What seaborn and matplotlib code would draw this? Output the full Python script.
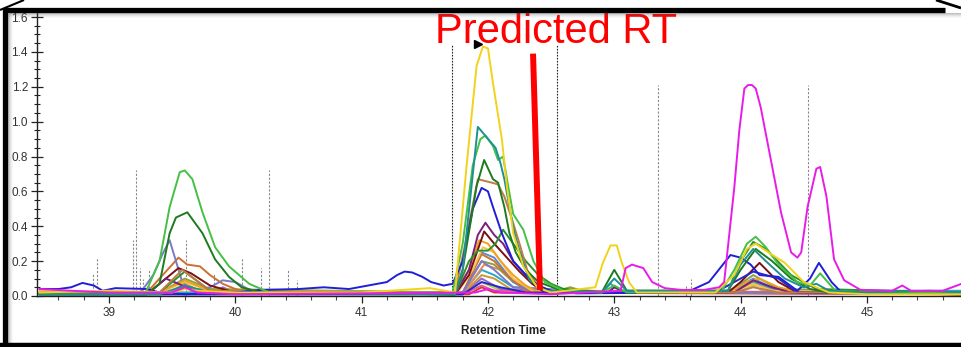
import numpy as np
import pandas as pd
import matplotlib
matplotlib.use("Agg")
import matplotlib.pyplot as plt
from matplotlib.lines import Line2D
from matplotlib.ticker import MultipleLocator
import seaborn as sns

# ---------------- data ----------------
yellow_t = [38.45, 39.0, 39.5, 39.6, 39.7, 40.0, 41.0, 41.54, 41.74, 41.83, 41.91, 41.96, 42.0, 42.04, 42.11, 42.15, 42.2, 42.28, 42.39, 42.5, 42.85, 42.91, 42.97, 43.02, 43.06, 43.12, 43.18, 43.8, 43.95, 44.05, 44.12, 44.2, 44.35, 44.5, 44.7, 45.0, 45.75]
yellow_y = [0.02, 0.03, 0.02, 0.04, 0.03, 0.02, 0.02, 0.045, 0.02, 0.74, 1.32, 1.43, 1.42, 1.22, 0.90, 0.63, 0.36, 0.17, 0.05, 0.02, 0.05, 0.19, 0.29, 0.29, 0.19, 0.075, 0.02, 0.02, 0.12, 0.27, 0.30, 0.26, 0.19, 0.08, 0.02, 0.01, 0.01]

teal_t = [38.45, 39.4, 39.6, 39.8, 41.74, 41.8, 41.87, 41.92, 41.99, 42.06, 42.1, 42.13, 42.17, 42.21, 42.27, 42.33, 42.45, 42.9, 43.0, 43.1, 43.9, 44.0, 44.1, 44.2, 44.35, 44.5, 44.6, 44.7, 45.0, 45.5, 45.75]
teal_y = [0.01, 0.01, 0.06, 0.02, 0.01, 0.15, 0.63, 0.97, 0.91, 0.85, 0.76, 0.67, 0.51, 0.36, 0.21, 0.09, 0.03, 0.02, 0.10, 0.03, 0.03, 0.18, 0.27, 0.20, 0.10, 0.05, 0.07, 0.03, 0.02, 0.03, 0.02]

lgreen_t = [38.45, 39.1, 39.29, 39.40, 39.48, 39.56, 39.6, 39.66, 39.74, 39.84, 39.95, 40.11, 40.27, 41.72, 41.8, 41.88, 41.94, 41.98, 42.04, 42.08, 42.12, 42.16, 42.2, 42.28, 42.36, 42.45, 42.6, 42.9, 43.0, 43.1, 43.85, 43.95, 44.05, 44.12, 44.2, 44.3, 44.45, 44.55, 44.63, 44.75, 45.0, 45.75]
lgreen_y = [0.01, 0.01, 0.02, 0.20, 0.51, 0.71, 0.72, 0.67, 0.48, 0.28, 0.17, 0.07, 0.02, 0.02, 0.30, 0.75, 0.90, 0.92, 0.86, 0.78, 0.80, 0.63, 0.47, 0.38, 0.20, 0.08, 0.03, 0.02, 0.06, 0.02, 0.03, 0.15, 0.30, 0.34, 0.28, 0.18, 0.08, 0.06, 0.13, 0.03, 0.02, 0.02]

dgreen_t = [38.45, 39.3, 39.40, 39.48, 39.53, 39.62, 39.74, 39.84, 39.95, 40.05, 40.2, 41.74, 41.8, 41.91, 41.97, 42.04, 42.08, 42.13, 42.17, 42.22, 42.3, 42.4, 42.55, 42.9, 43.0, 43.1, 43.9, 44.0, 44.12, 44.25, 44.4, 44.55, 44.7, 45.75]
dgreen_y = [0.01, 0.01, 0.07, 0.36, 0.45, 0.48, 0.36, 0.21, 0.11, 0.05, 0.02, 0.01, 0.15, 0.63, 0.78, 0.67, 0.65, 0.51, 0.36, 0.25, 0.15, 0.08, 0.04, 0.02, 0.15, 0.03, 0.03, 0.15, 0.27, 0.20, 0.10, 0.04, 0.02, 0.01]

green2_t = [38.45, 39.4, 39.6, 39.8, 41.74, 41.85, 41.92, 42.0, 42.06, 42.12, 42.2, 42.3, 42.4, 42.5, 42.6, 43.0, 43.9, 44.0, 44.1, 44.2, 44.4, 44.6, 45.75]
green2_y = [0.01, 0.02, 0.14, 0.03, 0.01, 0.20, 0.26, 0.26, 0.30, 0.38, 0.30, 0.20, 0.12, 0.07, 0.04, 0.02, 0.03, 0.20, 0.31, 0.27, 0.12, 0.04, 0.02]

brown_t = [38.45, 39.4, 39.58, 39.8, 41.74, 41.82, 41.92, 42.03, 42.08, 42.13, 42.19, 42.25, 42.31, 42.4, 42.5, 43.0, 43.95, 44.1, 44.3, 45.75]
brown_y = [0.02, 0.02, 0.15, 0.03, 0.02, 0.30, 0.67, 0.65, 0.64, 0.57, 0.44, 0.30, 0.15, 0.05, 0.02, 0.02, 0.02, 0.05, 0.02, 0.02]

blue_t = [38.45, 38.6, 38.7, 38.79, 38.88, 38.95, 39.05, 39.3, 39.4, 39.6, 40.0, 40.2, 40.5, 40.7, 40.9, 41.05, 41.2, 41.28, 41.34, 41.4, 41.48, 41.55, 41.65, 41.72, 41.8, 41.88, 41.95, 42.0, 42.04, 42.11, 42.2, 42.3, 42.4, 42.5, 42.7, 43.5, 43.6, 43.75, 43.92, 44.0, 44.08, 44.15, 44.3, 44.45, 44.55, 44.62, 44.72, 44.8, 45.75]
blue_y = [0.04, 0.04, 0.05, 0.075, 0.06, 0.03, 0.045, 0.04, 0.02, 0.01, 0.02, 0.035, 0.04, 0.05, 0.04, 0.06, 0.08, 0.12, 0.14, 0.135, 0.11, 0.08, 0.06, 0.07, 0.20, 0.50, 0.62, 0.60, 0.51, 0.36, 0.20, 0.12, 0.06, 0.03, 0.015, 0.02, 0.03, 0.08, 0.235, 0.22, 0.18, 0.12, 0.11, 0.03, 0.10, 0.19, 0.08, 0.02, 0.02]

blue2_t = [38.45, 41.8, 41.95, 42.1, 42.3, 43.8, 44.0, 44.1, 44.3, 44.45, 45.75]
blue2_y = [0.01, 0.01, 0.08, 0.05, 0.02, 0.02, 0.10, 0.14, 0.10, 0.02, 0.01]

magenta_t = [38.45, 38.7, 39.0, 39.5, 39.6, 39.7, 40.0, 41.9, 42.0, 42.1, 42.5, 43.05, 43.09, 43.14, 43.23, 43.3, 43.4, 43.53, 43.71, 43.83, 43.87, 43.91, 43.95, 43.99, 44.03, 44.06, 44.09, 44.12, 44.16, 44.24, 44.32, 44.4, 44.45, 44.48, 44.53, 44.6, 44.63, 44.68, 44.74, 44.82, 44.95, 45.2, 45.28, 45.35, 45.6, 45.75]
magenta_y = [0.04, 0.03, 0.02, 0.02, 0.05, 0.02, 0.01, 0.02, 0.04, 0.02, 0.01, 0.03, 0.16, 0.18, 0.16, 0.08, 0.045, 0.035, 0.035, 0.05, 0.08, 0.35, 0.62, 0.95, 1.19, 1.21, 1.21, 1.19, 1.08, 0.78, 0.48, 0.25, 0.22, 0.25, 0.51, 0.73, 0.74, 0.57, 0.21, 0.09, 0.035, 0.03, 0.06, 0.03, 0.03, 0.07]

purple_t = [38.45, 39.3, 39.45, 39.55, 39.7, 41.74, 41.85, 41.92, 41.98, 42.05, 42.12, 42.2, 42.3, 42.4, 42.5, 42.95, 43.0, 43.1, 43.95, 44.1, 44.25, 44.4, 45.75]
purple_y = [0.01, 0.01, 0.10, 0.07, 0.02, 0.01, 0.15, 0.35, 0.42, 0.35, 0.30, 0.20, 0.12, 0.05, 0.02, 0.02, 0.05, 0.02, 0.02, 0.09, 0.05, 0.02, 0.01]

maroon_t = [38.45, 39.3, 39.45, 39.55, 39.65, 39.8, 40.0, 41.74, 41.85, 41.97, 42.05, 42.15, 42.25, 42.35, 42.45, 43.9, 44.0, 44.15, 44.3, 44.45, 45.75]
maroon_y = [0.01, 0.01, 0.10, 0.16, 0.13, 0.06, 0.02, 0.01, 0.12, 0.37, 0.30, 0.22, 0.14, 0.07, 0.02, 0.02, 0.08, 0.19, 0.08, 0.02, 0.01]

orange_t = [38.45, 39.4, 39.6, 39.8, 41.74, 41.85, 41.93, 42.0, 42.1, 42.2, 42.3, 42.4, 43.9, 44.05, 44.15, 44.3, 44.5, 45.75]
orange_y = [0.02, 0.02, 0.09, 0.03, 0.02, 0.15, 0.32, 0.30, 0.20, 0.12, 0.06, 0.02, 0.02, 0.08, 0.10, 0.05, 0.02, 0.02]

lorange_t = [38.45, 39.4, 39.6, 39.8, 41.76, 41.88, 41.96, 42.05, 42.2, 42.35, 44.0, 44.1, 44.25, 45.75]
lorange_y = [0.03, 0.02, 0.08, 0.03, 0.02, 0.15, 0.28, 0.25, 0.10, 0.03, 0.03, 0.07, 0.03, 0.02]

slate_t = [38.45, 39.25, 39.35, 39.43, 39.48, 39.53, 39.58, 39.65, 39.8, 39.9, 40.0, 40.1, 40.2, 41.8, 41.95, 42.05, 42.2, 43.0, 45.75]
slate_y = [0.01, 0.02, 0.12, 0.25, 0.32, 0.20, 0.08, 0.03, 0.05, 0.09, 0.08, 0.04, 0.02, 0.02, 0.20, 0.15, 0.05, 0.02, 0.02]

orbrown_t = [38.45, 39.3, 39.45, 39.55, 39.62, 39.72, 39.8, 39.9, 40.0, 40.1, 41.8, 41.95, 42.05, 42.15, 42.3, 45.75]
orbrown_y = [0.01, 0.02, 0.14, 0.22, 0.18, 0.17, 0.12, 0.07, 0.04, 0.02, 0.02, 0.24, 0.20, 0.12, 0.03, 0.01]

cornflower_t = [38.45, 41.8, 41.95, 42.05, 42.2, 42.35, 43.9, 44.1, 44.3, 45.75]
cornflower_y = [0.01, 0.01, 0.25, 0.22, 0.08, 0.02, 0.02, 0.10, 0.03, 0.01]

pink_t = [38.45, 39.5, 39.6, 39.7, 41.8, 41.95, 42.05, 45.75]
pink_y = [0.02, 0.02, 0.06, 0.02, 0.01, 0.06, 0.03, 0.02]

olive_t = [38.45, 39.4, 39.6, 39.8, 41.8, 41.95, 42.05, 42.2, 42.4, 42.55, 42.65, 42.8, 43.9, 44.1, 44.3, 45.75]
olive_y = [0.015, 0.02, 0.10, 0.04, 0.02, 0.20, 0.18, 0.08, 0.03, 0.03, 0.05, 0.02, 0.02, 0.12, 0.04, 0.02]

salmon_t = [38.45, 41.8, 41.97, 42.1, 42.25, 42.4, 43.9, 44.1, 44.3, 45.75]
salmon_y = [0.01, 0.01, 0.18, 0.15, 0.06, 0.02, 0.02, 0.07, 0.02, 0.01]

cyan_t = [38.45, 41.8, 41.95, 42.05, 42.2, 42.9, 42.97, 43.05, 43.9, 44.1, 44.3, 45.75]
cyan_y = [0.02, 0.02, 0.15, 0.12, 0.05, 0.02, 0.07, 0.03, 0.03, 0.08, 0.03, 0.03]

goldbrown_t = [38.45, 39.45, 39.6, 39.75, 41.8, 41.95, 42.05, 42.2, 45.75]
goldbrown_y = [0.01, 0.01, 0.07, 0.02, 0.01, 0.12, 0.10, 0.03, 0.01]

violet_t = [38.45, 39.8, 39.9, 40.0, 41.8, 41.95, 42.1, 42.95, 43.0, 43.1, 45.75]
violet_y = [0.01, 0.01, 0.05, 0.02, 0.01, 0.10, 0.04, 0.02, 0.05, 0.02, 0.01]

lime_t = [38.45, 41.8, 41.95, 42.1, 44.0, 44.1, 44.2, 45.75]
lime_y = [0.02, 0.02, 0.08, 0.03, 0.02, 0.06, 0.02, 0.02]

red_t = [38.45, 41.85, 41.95, 42.05, 45.75]
red_y = [0.01, 0.01, 0.05, 0.02, 0.01]

series_names = ["red", "lime", "violet", "goldbrown", "cyan", "salmon", "olive", "pink",
                "cornflower", "orbrown", "slate", "lorange", "orange", "maroon", "purple",
                "blue2", "green2", "brown", "blue", "dgreen", "lgreen", "teal", "yellow", "magenta"]
series_t = [red_t, lime_t, violet_t, goldbrown_t, cyan_t, salmon_t, olive_t, pink_t,
            cornflower_t, orbrown_t, slate_t, lorange_t, orange_t, maroon_t, purple_t,
            blue2_t, green2_t, brown_t, blue_t, dgreen_t, lgreen_t, teal_t, yellow_t, magenta_t]
series_y = [red_y, lime_y, violet_y, goldbrown_y, cyan_y, salmon_y, olive_y, pink_y,
            cornflower_y, orbrown_y, slate_y, lorange_y, orange_y, maroon_y, purple_y,
            blue2_y, green2_y, brown_y, blue_y, dgreen_y, lgreen_y, teal_y, yellow_y, magenta_y]
series_colors = ["#d83030", "#a8d848", "#9a60d0", "#c89a30", "#28a8c8", "#e88860", "#8aa040", "#e05a9a",
                 "#5b8ad8", "#d07030", "#7a7ac8", "#f8c050", "#f0a020", "#7a1010", "#7a1f7a",
                 "#2828c8", "#2e8f2e", "#c07a4a", "#1f1fd8", "#1e7a1e", "#44c044", "#1f9090", "#f2d21b", "#e81ce8"]

# grey dashed marker lines (retention time, top intensity)
vline_t = [38.873, 38.904, 39.19, 39.214, 39.245, 39.27, 39.32, 39.61, 39.83, 40.05, 40.2, 40.27, 40.42, 40.49, 43.35, 43.57, 43.61, 44.53]
vline_top = [0.13, 0.22, 0.32, 0.72, 0.16, 0.10, 0.15, 0.32, 0.13, 0.22, 0.16, 0.72, 0.15, 0.09, 1.21, 0.06, 0.10, 1.21]
# black dotted integration boundaries
bound_t = [41.715, 42.546]
bound_top = 1.44
# predicted RT red marker line
rt_line_t = [42.357, 42.412]
rt_line_y = [1.39, 0.034]
arrow_t, arrow_y = 41.92, 1.445

x_ticks = [39, 40, 41, 42, 43, 44, 45]
y_ticks = [0.0, 0.2, 0.4, 0.6, 0.8, 1.0, 1.2, 1.4, 1.6]

# ---------------- build table ----------------
frames = []
for name, t, y in zip(series_names, series_t, series_y):
    frames.append(pd.DataFrame({"time": t, "intensity": y, "series": name}))
df = pd.concat(frames, ignore_index=True)
palette = dict(zip(series_names, series_colors))

sns.set_style("white")
plt.rcParams["font.family"] = ["Liberation Sans", "DejaVu Sans"]

W, H = 961, 347
fig = plt.figure(figsize=(W / 100, H / 100), dpi=100)
fig.patch.set_facecolor("white")

ax_left, ax_right, ax_bottom, ax_top = 37, 961, 296, 13
ax = fig.add_axes([ax_left / W, 1 - ax_bottom / H, (ax_right - ax_left) / W, (ax_bottom - ax_top) / H])

# vertical marker lines
ax.vlines(vline_t, 0, vline_top, colors="#8a8a8a", linestyles=(0, (2, 1.5)), linewidth=0.8, zorder=1)
ax.vlines(bound_t, 0, bound_top, colors="#222222", linestyles=(0, (1.5, 1.2)), linewidth=0.8, zorder=1)

sns.lineplot(data=df, x="time", y="intensity", hue="series", hue_order=series_names,
             palette=palette, estimator=None, legend=False, linewidth=1.4, ax=ax, zorder=3)
for ln in ax.get_lines():
    ln.set_solid_joinstyle("round")

ax.plot(rt_line_t, rt_line_y, color="#ff0000", linewidth=4.3, solid_capstyle="butt", zorder=5)
ax.plot([arrow_t], [arrow_y], marker=">", color="black", markersize=6, zorder=5, clip_on=False)

ax.set_xlim(38.43, 45.745)
ax.set_ylim(0, 1.623)
ax.set_xticks(x_ticks)
ax.set_xticklabels([str(v) for v in x_ticks])
ax.set_yticks(y_ticks)
ax.set_yticklabels([f"{v:.1f}" for v in y_ticks])
ax.xaxis.set_minor_locator(MultipleLocator(0.2))
ax.yaxis.set_minor_locator(MultipleLocator(0.05))
ax.tick_params(axis="y", which="major", direction="inout", length=8, width=0.9, color="#222222",
               labelsize=8.5, labelcolor="#333333", pad=2.5, left=True)
ax.tick_params(axis="y", which="minor", direction="inout", length=4, width=0.8, color="#222222", left=True)
ax.tick_params(axis="x", which="major", direction="out", length=5, width=0.9, color="#222222",
               labelsize=8.5, labelcolor="#333333", pad=3, bottom=True)
ax.tick_params(axis="x", which="minor", direction="out", length=3, width=0.8, color="#444444", bottom=True)
for s in ["top", "right"]:
    ax.spines[s].set_visible(False)
for s in ["left", "bottom"]:
    ax.spines[s].set_color("#222222")
    ax.spines[s].set_linewidth(1.0)
ax.set_ylabel("")
ax.set_xlabel("Retention Time", fontsize=8.5, fontweight="bold", color="#222222")
ax.xaxis.set_label_coords((503 - ax_left) / (ax_right - ax_left), (ax_bottom - 331.5) / (ax_bottom - ax_top))
ax.xaxis.label.set_va("center")
ax.patch.set_alpha(0)

# title annotation
fig.text(435 / W, 1 - 43 / H, "Predicted RT", color="#ff0000", fontsize=30,
         ha="left", va="baseline", zorder=10)

# frame of the screenshot
def fl(x0, y0, x1, y1, lw, color="black", alpha=1.0):
    fig.add_artist(Line2D([x0 / W, x1 / W], [1 - y0 / H, 1 - y1 / H], transform=fig.transFigure,
                          color=color, linewidth=lw, alpha=alpha, solid_capstyle="butt", zorder=20))

for k, a in enumerate([0.35, 0.25, 0.16, 0.09, 0.04]):
    fl(8, 13 + k, 961, 13 + k, 0.75, color="#555555", alpha=a)
    fl(8 + k, 13, 8 + k, 343, 0.75, color="#555555", alpha=a)
fl(4, 9.5, 945, 9.5, 3.8)
fl(4.5, 8, 4.5, 347, 3.8)
fl(0, 345, 961, 345, 3.2)
fl(0, 10, 24, 0, 1.5)
fl(936, 0, 961, 8, 2.0)

fig.savefig("out.png", dpi=100, facecolor="white")
